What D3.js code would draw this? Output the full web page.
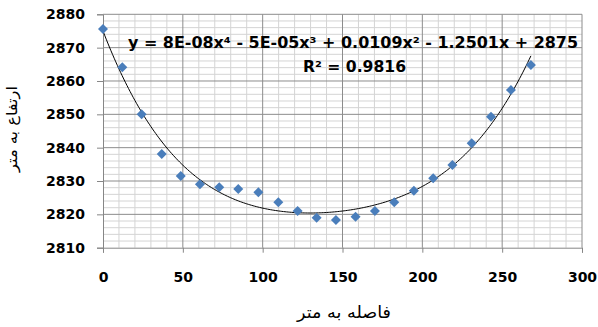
<!DOCTYPE html>
<html>
<head>
<meta charset="utf-8">
<script src="https://cdn.jsdelivr.net/npm/d3@7"></script>
<style>
  body { margin: 0; background: #fff; }
  svg { display: block; }
</style>
</head>
<body>
<div id="chart"></div>
<script>
// data
const distance = [0, 12.1, 24.2, 36.8, 48.7, 60.7, 72.8, 84.7, 97.3, 109.8, 121.9, 133.8,
  145.9, 158.2, 170.3, 182.4, 194.7, 206.8, 218.8, 230.9, 243, 255.5, 268];
const elevation = [2875.6, 2864.1, 2850.0, 2838.1, 2831.5, 2829.0, 2828.1, 2827.6, 2826.6, 2823.6, 2821.0, 2819.0,
  2818.3, 2819.3, 2821.0, 2823.6, 2827.1, 2830.8, 2834.8, 2841.3, 2849.3, 2857.3, 2864.8];
const xTicks = [0, 50, 100, 150, 200, 250, 300];
const yTicks = [2810, 2820, 2830, 2840, 2850, 2860, 2870, 2880];
const equationText = "y = 8E-08x⁴ - 5E-05x³ + 0.0109x² - 1.2501x + 2875";
const r2Text = "R² = 0.9816";
const xTitle = "فاصله به متر";
const yTitle = "ارتفاع به متر";

const width = 598, height = 327;
const plotLeft = 103, plotRight = 582, plotTop = 14.3, plotBottom = 247.7;

const svg = d3.select("#chart").append("svg")
  .attr("width", width)
  .attr("height", height);

const x = d3.scaleLinear().domain([0, 300]).range([plotLeft, plotRight]);
const y = d3.scaleLinear().domain([2810, 2880]).range([plotBottom, plotTop]);

// minor grid
svg.append("g")
  .selectAll("line")
  .data(d3.range(0, 301, 10).filter(v => v % 50 != 0))
  .enter().append("line")
  .attr("x1", d => x(d)).attr("x2", d => x(d))
  .attr("y1", plotTop).attr("y2", plotBottom)
  .attr("stroke", "#d4d4d4").attr("stroke-width", 1);

svg.append("g")
  .selectAll("line")
  .data(d3.range(2810, 2881, 2).filter(v => v % 10 != 0))
  .enter().append("line")
  .attr("x1", plotLeft).attr("x2", plotRight)
  .attr("y1", d => y(d)).attr("y2", d => y(d))
  .attr("stroke", "#d4d4d4").attr("stroke-width", 1);

// major grid
svg.append("g")
  .selectAll("line")
  .data(xTicks.slice(1))
  .enter().append("line")
  .attr("x1", d => x(d)).attr("x2", d => x(d))
  .attr("y1", plotTop).attr("y2", plotBottom)
  .attr("stroke", "#8c8c8c").attr("stroke-width", 1);

svg.append("g")
  .selectAll("line")
  .data(yTicks.slice(1))
  .enter().append("line")
  .attr("x1", plotLeft).attr("x2", plotRight)
  .attr("y1", d => y(d)).attr("y2", d => y(d))
  .attr("stroke", "#8c8c8c").attr("stroke-width", 1);

// axes
const xAxis = svg.append("g")
  .attr("transform", "translate(0," + plotBottom + ")")
  .call(d3.axisBottom(x).tickValues(xTicks).tickSize(5).tickPadding(19));
const yAxis = svg.append("g")
  .attr("transform", "translate(" + plotLeft + ",0)")
  .call(d3.axisLeft(y).tickValues(yTicks).tickSize(6).tickPadding(12).tickFormat(d3.format("d")));

[xAxis, yAxis].forEach(a => {
  a.select(".domain").attr("stroke", "#868686");
  a.selectAll(".tick line").attr("stroke", "#868686");
  a.selectAll("text")
    .attr("fill", "#000")
    .style("font-family", "DejaVu Sans")
    .style("font-weight", "bold")
    .style("font-size", "14px");
});

// polynomial trendline (degree 4 least squares on the points)
function polyFit(xs, ys, deg) {
  const mx = d3.mean(xs), sx = d3.deviation(xs);
  const n = deg + 1;
  const A = d3.range(n).map(() => new Array(n + 1).fill(0));
  xs.forEach((xv, k) => {
    const t = (xv - mx) / sx;
    const p = d3.range(2 * n).map(i => Math.pow(t, i));
    for (let i = 0; i < n; i++) {
      for (let j = 0; j < n; j++) A[i][j] += p[i + j];
      A[i][n] += p[i] * ys[k];
    }
  });
  for (let i = 0; i < n; i++) {
    let m = i;
    for (let r = i + 1; r < n; r++) if (Math.abs(A[r][i]) > Math.abs(A[m][i])) m = r;
    [A[i], A[m]] = [A[m], A[i]];
    for (let r = 0; r < n; r++) {
      if (r == i) continue;
      const f = A[r][i] / A[i][i];
      for (let c = i; c <= n; c++) A[r][c] -= f * A[i][c];
    }
  }
  const coef = A.map((row, i) => row[n] / row[i]);
  return v => {
    const t = (v - mx) / sx;
    return coef.reduce((s, c, i) => s + c * Math.pow(t, i), 0);
  };
}

const fit = polyFit(distance, elevation, 4);
const xs = d3.range(0, d3.max(distance) + 0.01, 1);

svg.append("path")
  .datum(xs)
  .attr("fill", "none")
  .attr("stroke", "#000")
  .attr("stroke-width", 1)
  .attr("d", d3.line().x(d => x(d)).y(d => y(fit(d))));

// markers
svg.append("g")
  .selectAll("path")
  .data(distance)
  .enter().append("path")
  .attr("d", d3.symbol(d3.symbolSquare, 50))
  .attr("transform", (d, i) => "translate(" + x(d) + "," + y(elevation[i]) + ") rotate(45)")
  .attr("fill", "#4a7ebb");

// equation labels
svg.append("text")
  .attr("x", 128).attr("y", 47.5)
  .attr("textLength", 450).attr("lengthAdjust", "spacingAndGlyphs")
  .style("font-family", "DejaVu Sans")
  .style("font-weight", "bold")
  .style("font-size", "16px")
  .text(equationText);

svg.append("text")
  .attr("x", 303).attr("y", 71.5)
  .attr("textLength", 103).attr("lengthAdjust", "spacingAndGlyphs")
  .style("font-family", "DejaVu Sans")
  .style("font-weight", "bold")
  .style("font-size", "16px")
  .text(r2Text);

// axis titles
svg.append("text")
  .attr("x", 344).attr("y", 318)
  .attr("text-anchor", "middle")
  .attr("textLength", 94).attr("lengthAdjust", "spacingAndGlyphs")
  .style("font-family", "DejaVu Sans")
  .style("font-size", "17px")
  .text(xTitle);

svg.append("text")
  .attr("transform", "translate(17,129) rotate(-90)")
  .attr("text-anchor", "middle")
  .attr("textLength", 86).attr("lengthAdjust", "spacingAndGlyphs")
  .style("font-family", "DejaVu Sans")
  .style("font-size", "15px")
  .text(yTitle);
</script>
</body>
</html>
